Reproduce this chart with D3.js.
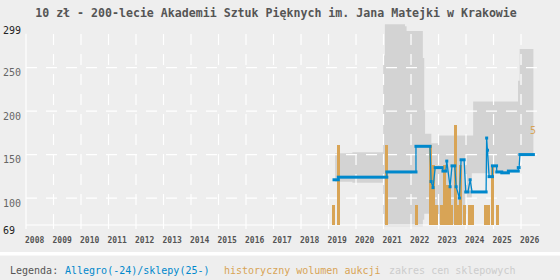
<!DOCTYPE html>
<html><head><meta charset="utf-8">
<script src="https://cdn.jsdelivr.net/npm/d3@7"></script>
<style>html,body{margin:0;padding:0;background:#eeeeee;}svg{display:block;}</style>
</head><body><svg id="c" width="560" height="280"></svg>
<script>
// ---------- DATA ----------
const chartTitle = "10 zł - 200-lecie Akademii Sztuk Pięknych im. Jana Matejki w Krakowie";
const yearTicks = d3.range(2008, 2027);
const priceTicks = [69, 100, 150, 200, 250, 299];
const volumeMax = 5;

// Allegro / shop price records: [start (decimal year), end, price]
const priceStart = [2019.20, 2019.356, 2021.12, 2022.18, 2022.73, 2022.80, 2022.88, 2023.16, 2023.30, 2023.42, 2023.49, 2023.64, 2023.76, 2023.82, 2023.99, 2024.15, 2024.22, 2024.75, 2024.78, 2024.84, 2024.96, 2025.12, 2025.30, 2025.54, 2025.90, 2025.96];
const priceEnd   = [2019.356, 2021.12, 2022.18, 2022.69, 2022.73, 2022.80, 2023.13, 2023.27, 2023.30, 2023.42, 2023.59, 2023.64, 2023.76, 2023.93, 2024.07, 2024.15, 2024.73, 2024.75, 2024.78, 2024.96, 2025.11, 2025.30, 2025.54, 2025.90, 2025.93, 2026.45];
const priceValue = [121, 124, 130, 159.5, 119, 112, 135, 131, 142.5, 113, 137, 113, 100, 144, 107, 121, 107, 169, 155, 124.6, 137, 130, 129, 131, 135, 150];

// Shop price range: [start, end, low, high]
const bandStart = [2019.24, 2019.87, 2020.99, 2021.05, 2021.78, 2021.84, 2022.43, 2022.48, 2022.51, 2022.74, 2022.98, 2023.99, 2024.21, 2024.26, 2024.85, 2025.00, 2025.13, 2025.89, 2025.95];
const bandEnd   = [2019.87, 2020.99, 2021.05, 2021.78, 2021.84, 2022.43, 2022.48, 2022.51, 2022.74, 2022.98, 2023.99, 2024.21, 2024.26, 2024.85, 2025.00, 2025.13, 2025.89, 2025.95, 2026.45];
const bandLow   = [118.8, 117.7, 67.5, 67.5, 67.5, 67.5, 75, 82, 82, 82, 70, 100, 128.5, 128.5, 126.5, 128.5, 130, 138, 149.5];
const bandHigh  = [151.5, 152.6, 264, 300, 297.5, 292, 261, 201, 174, 163, 172, 172, 172, 211, 211, 211, 211, 235, 271.4];

// Historical auction volume: [date, count]
const volDate  = [2019.127, 2019.309, 2021.055, 2022.145, 2022.655, 2022.764, 2022.855, 2023.055, 2023.164, 2023.273, 2023.327, 2023.418, 2023.564, 2023.673, 2023.745, 2023.873, 2024.073, 2024.164, 2024.655, 2024.745, 2024.909, 2025.091];
const volCount = [1, 4, 4, 1, 4, 3, 1, 1, 3, 2, 2, 1, 5, 1, 3, 1, 1, 1, 1, 1, 3, 1];

const legendLabels = ["Legenda:", "Allegro(-24)/sklepy(25-)", "historyczny wolumen aukcji", "zakres cen sklepowych"];

// ---------- STYLE / LAYOUT ----------
const C = {bg:"#eeeeee", grid:"#ffffff", band:"#d3d3d3", bar:"#d8a456", line:"#0088cc", text:"#555555"};
const mono = "'DejaVu Sans Mono', monospace";
const svg = d3.select("#c");
const x = d3.scaleLinear().domain([2008, 2026.69]).range([26, 540]);
const y = d3.scaleLinear().domain([69, 299]).range([225, 25]);
const yv = d3.scaleLinear().domain([0, volumeMax]).range([225, 125]);

svg.append("rect").attr("width",560).attr("height",280).attr("fill",C.bg);

// band
const bandPts = [];
bandStart.forEach((s,i)=>{ bandPts.push({t:s,lo:bandLow[i],hi:bandHigh[i]}); bandPts.push({t:bandEnd[i],lo:bandLow[i],hi:bandHigh[i]}); });
svg.append("path").datum(bandPts)
  .attr("d", d3.area().x(d=>x(d.t)).y0(d=>y(d.lo)).y1(d=>y(d.hi)))
  .attr("fill", C.band);

// grid
const g = svg.append("g");
g.selectAll("line.h").data(priceTicks.filter(v=>v!==69 && v!==299)).join("line")
  .attr("x1", x(2008)).attr("x2", 540).attr("y1", d=>y(d)).attr("y2", d=>y(d))
  .attr("stroke", C.grid).attr("stroke-width",1.2).attr("stroke-dasharray","11,9");
g.selectAll("line.v").data(yearTicks.slice(1)).join("line")
  .attr("x1", d=>x(d)).attr("x2", d=>x(d)).attr("y1", y(69)).attr("y2", y(299))
  .attr("stroke", C.grid).attr("stroke-width",1.2).attr("stroke-dasharray","11,9");
// axes
g.append("line").attr("x1",x(2008)).attr("x2",x(2008)).attr("y1",y(289)).attr("y2",y(69)).attr("stroke",C.grid).attr("stroke-width",1.2);
g.append("line").attr("x1",x(2008)).attr("x2",540).attr("y1",y(69)).attr("y2",y(69)).attr("stroke",C.grid).attr("stroke-width",1.2);
g.selectAll("line.t").data(yearTicks).join("line")
  .attr("x1", d=>x(d)).attr("x2", d=>x(d)).attr("y1", y(69)).attr("y2", y(69)+4)
  .attr("stroke", C.grid).attr("stroke-width",1.2);

// volume bars
svg.append("g").selectAll("rect").data(volDate.map((d,i)=>({t:d,v:volCount[i]}))).join("rect")
  .attr("x", d=>x(d.t)).attr("width", 3)
  .attr("y", d=>yv(d.v)).attr("height", d=>yv(0)-yv(d.v))
  .attr("fill", C.bar).attr("shape-rendering","crispEdges");

// price line: thin connectors + thick holds
const recs = priceStart.map((s,i)=>({s, e:priceEnd[i], v:priceValue[i]}));
const linePts = [];
recs.forEach(r=>{ linePts.push([r.s,r.v]); linePts.push([r.e,r.v]); });
svg.append("path").datum(linePts)
  .attr("d", d3.line().x(d=>x(d[0])).y(d=>y(d[1])))
  .attr("fill","none").attr("stroke",C.line).attr("stroke-width",1.3);
svg.append("g").selectAll("rect").data(recs).join("rect")
  .attr("x", d=>x(d.s)-1.5).attr("width", d=>x(d.e)-x(d.s)+3)
  .attr("y", d=>y(d.v)-1.5).attr("height", 3)
  .attr("fill", C.line);

// volume max label
svg.append("text").attr("x", 530).attr("y", yv(volumeMax)+8.5)
  .attr("font-family", mono).attr("font-size", 10).attr("fill", C.bar).text(volumeMax);

// y labels
svg.append("g").selectAll("text").data(priceTicks).join("text")
  .attr("x", 3).attr("y", d=>y(d)+8.5)
  .attr("font-family", mono).attr("font-size", 10)
  .attr("fill", d=> (d===69||d===299) ? "#222" : "#666").text(d=>d);

// x labels
svg.append("g").selectAll("text").data(yearTicks).join("text")
  .attr("x", d=>x(d)-1).attr("y", 243)
  .attr("font-family", mono).attr("font-size", 8).attr("font-weight","bold")
  .attr("fill", "#555").text(d=>d);

// title
svg.append("text").attr("x", 276).attr("y", 16.5).attr("text-anchor","middle")
  .attr("font-family", mono).attr("font-size", 11.6).attr("font-weight","bold")
  .attr("fill", C.text).text(chartTitle);

// legend
svg.append("rect").attr("x",0).attr("y",252).attr("width",560).attr("height",3.5).attr("fill","#ffffff");
const legendX = [10, 65, 224, 389];
const legendColors = [C.text, C.line, C.bar, "#cccccc"];
svg.append("g").selectAll("text").data(legendLabels).join("text")
  .attr("x", (d,i)=>legendX[i]).attr("y", 273.5)
  .attr("font-family", mono).attr("font-size", 10)
  .attr("fill", (d,i)=>legendColors[i]).text(d=>d);
</script></body></html>
